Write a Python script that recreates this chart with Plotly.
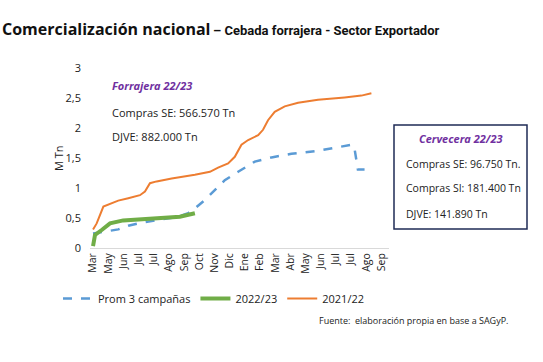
import plotly.graph_objects as go

tick_labels = ["Mar", "May", "Jun", "Jul", "Jul", "Ago", "Sep", "Oct", "Nov", "Dic",
               "Ene", "Feb", "Mar", "Abr", "May", "Jun", "Jul", "Jul", "Ago", "Sep"]

# time position (in label-index units) and values (M Tn)
x_2122 = [0.0, 0.24, 0.68, 1.12, 1.66, 2.32, 3.09, 3.42, 3.75, 4.19, 5.18, 6.71, 7.70, 8.24,
          8.90, 9.34, 9.78, 10.22, 10.88, 11.20, 11.53, 11.97, 12.63, 13.51, 14.82, 16.58,
          17.02, 17.68, 18.34]
y_2122 = [0.31, 0.41, 0.69, 0.74, 0.79, 0.83, 0.88, 0.94, 1.08, 1.11, 1.16, 1.22, 1.27, 1.34,
          1.41, 1.52, 1.72, 1.80, 1.88, 1.97, 2.13, 2.27, 2.36, 2.42, 2.47, 2.51,
          2.52, 2.54, 2.58]

x_prom = [0.0, 0.79, 1.66, 2.32, 2.98, 4.30, 5.61, 6.27, 6.71, 7.37, 8.03, 8.68, 9.56, 10.66,
          11.76, 13.07, 14.82, 16.14, 17.02, 17.2, 17.45, 17.89]
y_prom = [0.24, 0.27, 0.31, 0.37, 0.41, 0.47, 0.52, 0.58, 0.66, 0.80, 0.97, 1.13, 1.27, 1.44,
          1.51, 1.57, 1.62, 1.68, 1.72, 1.70, 1.31, 1.31]

x_2223 = [0.0, 0.13, 0.57, 1.12, 1.99, 3.97, 5.72, 6.71]
y_2223 = [0.03, 0.22, 0.30, 0.41, 0.46, 0.49, 0.52, 0.58]

y_ticks = [0, 0.5, 1, 1.5, 2, 2.5, 3]
y_tick_text = ["0", "0,5", "1", "1,5", "2", "2,5", "3"]

W, H = 543, 362
L, R, T, B = 90, 154, 68, 114
PW, PH = W - L - R, H - T - B

fig = go.Figure()
fig.add_trace(go.Scatter(x=x_prom, y=y_prom, mode="lines", name="Prom 3 campañas",
                         line=dict(color="#5B9BD5", width=2.5, dash="dash")))
fig.add_trace(go.Scatter(x=x_2223, y=y_2223, mode="lines", name="2022/23",
                         line=dict(color="#70AD47", width=4)))
fig.add_trace(go.Scatter(x=x_2122, y=y_2122, mode="lines", name="2021/22",
                         line=dict(color="#ED7D31", width=2)))

fig.update_layout(
    width=W, height=H,
    margin=dict(l=L, r=R, t=T, b=B, autoexpand=False),
    paper_bgcolor="white", plot_bgcolor="white",
    font=dict(family="Open Sans, sans-serif", size=11, color="#222"),
    showlegend=True,
    legend=dict(orientation="h", x=(58 - L) / PW, y=(H - B - 284) / PH,
                xanchor="left", yanchor="top",
                font=dict(size=11, color="#222"), traceorder="normal",
                tracegroupgap=0, bgcolor="rgba(0,0,0,0)"),
    xaxis=dict(range=[-0.2, 19.5], tickvals=list(range(len(tick_labels))),
               ticktext=tick_labels, tickangle=-90, showgrid=False, zeroline=False,
               showline=True, linecolor="#d9d9d9", linewidth=1, ticks="",
               automargin=False, tickfont=dict(size=10.5, color="#222")),
    yaxis=dict(range=[0, 3], tickvals=y_ticks, ticktext=y_tick_text, showgrid=False,
               zeroline=False, showline=False, ticks="", ticklabelstandoff=8,
               automargin=False, tickfont=dict(size=11, color="#222")),
)


def pa(x, y, text, size=11, color="#222", xanchor="left", family="Open Sans, sans-serif",
       angle=0):
    fig.add_annotation(xref="paper", yref="paper", x=(x - L) / PW, y=(H - B - y) / PH,
                       text=text, showarrow=False, xanchor=xanchor, yanchor="middle",
                       textangle=angle,
                       font=dict(family=family, size=size, color=color))

# y-axis title
pa(58, 158, "M Tn", size=11, xanchor="center", angle=-90)

# title
pa(0, 29, "<b>Comercialización nacional</b>", size=16, color="#111")
pa(211, 30, "<b>– Cebada forrajera - Sector Exportador</b>", size=13, color="#111",
   family="Liberation Sans Narrow, Roboto, sans-serif")

# Forrajera annotation
pa(110, 85, "<b><i>Forrajera 22/23</i></b>", size=11, color="#7030A0")
pa(110, 112, "Compras SE: 566.570 Tn", size=11)
pa(110, 136, "DJVE: 882.000 Tn", size=11)

# Cervecera box
fig.add_shape(type="rect", xref="paper", yref="paper",
              x0=(394 - L) / PW, x1=(527 - L) / PW,
              y0=(H - B - 229) / PH, y1=(H - B - 125) / PH,
              line=dict(color="#1F2B55", width=1.5), fillcolor="white", layer="above")
pa(461, 138, "<b><i>Cervecera 22/23</i></b>", size=11, color="#7030A0", xanchor="center")
pa(404, 164, "Compras SE: 96.750 Tn.", size=10.5)
pa(404, 188, "Compras SI: 181.400 Tn", size=10.5)
pa(404, 214, "DJVE: 141.890 Tn", size=10.5)

# source
pa(317, 320, "Fuente:  elaboración propia en base a SAGyP.", size=9)

fig.write_html("out.html", config={"displayModeBar": False},
               post_script="document.body.style.margin='0';")
